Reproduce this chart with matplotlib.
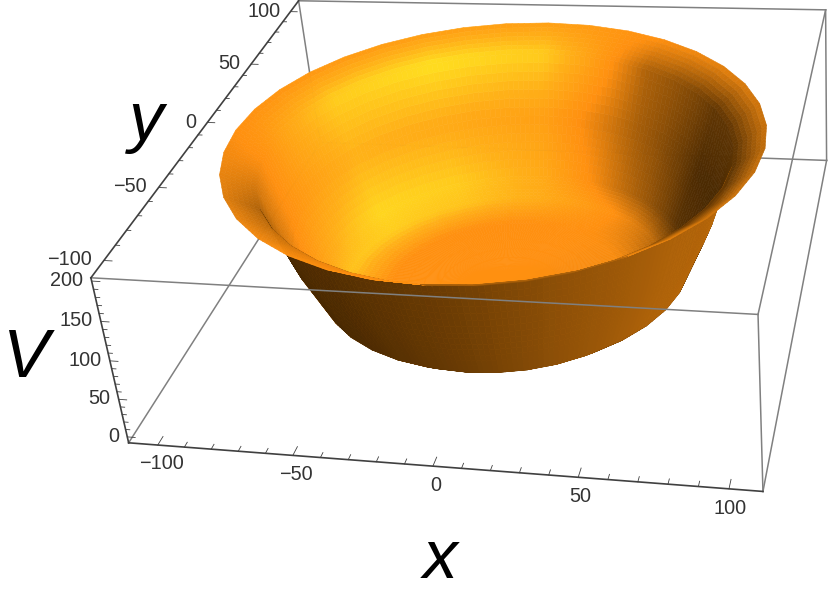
import numpy as np
import matplotlib
matplotlib.use('Agg')
import matplotlib.pyplot as plt
from matplotlib.colors import LinearSegmentedColormap
from mpl_toolkits.mplot3d import proj3d

# surface
angles = [0, 10, 20, 30, 40, 50, 60, 70, 80, 90, 100, 110, 120, 130, 140, 150, 160, 170, 180,
          190, 200, 210, 220, 230, 240, 250, 260, 270, 280, 290, 300, 310, 320, 330, 340, 350, 360]
radii = [0, 45, 62, 70, 80, 88, 100]
heights = [0, 1, 6, 25, 95, 170, 195]

# shade of the inside per ring (rows) and angle every 30 deg (columns), 0 dark, 0.5 orange, 1 yellow
shade_angles = [0, 30, 60, 90, 120, 150, 180, 210, 240, 270, 300, 330, 360]
inner_shade = [
    [.50, .50, .50, .50, .50, .50, .50, .50, .50, .50, .50, .50, .50],
    [.46, .48, .50, .50, .50, .50, .50, .50, .50, .50, .50, .48, .46],
    [.20, .30, .52, .72, .85, .90, .85, .60, .15, .15, .15, .30, .20],
    [.05, .08, .34, .70, .90, .95, .70, .45, .15, .15, .15, .12, .05],
    [.03, .05, .28, .62, .70, .75, .55, .34, .15, .15, .15, .05, .03],
    [.08, .10, .30, .90, 1.0, .90, .55, .30, .45, .50, .50, .10, .08],
    [.35, .42, .50, .62, .60, .55, .50, .42, .50, .50, .50, .40, .35],
]
outer_shade = [
    [.30, .30, .30, .30, .30, .30, .03, .03, .05, .12, .22, .30, .30],
    [.30, .30, .30, .30, .30, .30, .03, .03, .05, .12, .22, .30, .30],
    [.33, .30, .30, .30, .30, .30, .03, .03, .05, .12, .22, .30, .33],
    [.33, .30, .30, .30, .30, .30, .03, .03, .05, .12, .22, .30, .33],
    [.33, .30, .30, .30, .30, .30, .03, .03, .05, .12, .22, .30, .33],
    [.33, .30, .30, .30, .30, .30, .05, .05, .06, .12, .22, .30, .33],
    [.40, .40, .40, .40, .40, .40, .30, .30, .30, .30, .30, .35, .40],
]
shade_colors = ['#3a2000', '#9c5808', '#ff9010', '#ffb018', '#ffe020']

x_ticks = [-100, -50, 0, 50, 100]
y_ticks = [-100, -50, 0, 50, 100]
z_ticks = [0, 50, 100, 150, 200]
minor_x = list(range(-100, 101, 10))
minor_z = list(range(0, 201, 10))

xlim = (-111, 111)
ylim = (-111, 111)
zlim = (-8, 204)

fig = plt.figure(figsize=(8.3, 5.96), dpi=100)
ax = fig.add_axes([0, 0, 1, 1], projection='3d', computed_zorder=False)
ax.set_box_aspect((1, 0.989, 0.309))
ax.view_init(30.2, -73.61, 5.91)
ax.set_proj_type('persp', focal_length=0.441)
ax.set_axis_off()
ax.set_xticks([])
ax.set_yticks([])
ax.set_zticks([])

# view limits give pixel size of the axes
vl = ax.viewLim
scale = 4484.05
shift_x = 499.13
shift_y = 383.34
w = scale * (vl.x1 - vl.x0)
h = scale * (vl.y1 - vl.y0)
ax.set_position([(shift_x + scale * vl.x0) / 830, (shift_y + scale * vl.y0) / 596, w / 830, h / 596])

ax.set_xlim(*xlim)
ax.set_ylim(*ylim)
ax.set_zlim(*zlim)

# split every facet so the colours run smooth over the flat facets
sub = 7
ti = np.arange(0, (len(angles) - 1) * sub + 1) / sub
ri = np.arange(0, (len(radii) - 1) * sub + 1) / sub
a0 = np.radians(angles)
cx = np.interp(ti, np.arange(len(angles)), np.cos(a0))
cy = np.interp(ti, np.arange(len(angles)), np.sin(a0))
rr = np.interp(ri, np.arange(len(radii)), radii)
zz = np.interp(ri, np.arange(len(radii)), heights)
X = np.outer(rr, cx)
Y = np.outer(rr, cy)
Z = np.outer(zz, np.ones_like(cx))


def upsample(table):
    table = np.array(table)
    tm = np.interp(0.5 * (ti[:-1] + ti[1:]), np.arange(len(angles)), angles)
    rm = 0.5 * (ri[:-1] + ri[1:])
    a = np.array([np.interp(tm, shade_angles, row) for row in table])
    return np.array([np.interp(rm, np.arange(len(radii)), a[:, j]) for j in range(a.shape[1])]).T


def to_figure(x, y, z):
    u, v, _ = proj3d.proj_transform(x, y, z, ax.get_proj())
    return (shift_x + scale * u) / 830, (shift_y + scale * v) / 596


cmap = LinearSegmentedColormap.from_list('bowl', shade_colors)
px, py, _ = proj3d.proj_transform(X.ravel(), Y.ravel(), Z.ravel(), ax.get_proj())
px = np.reshape(px, X.shape)
py = np.reshape(py, X.shape)
d1x = px[1:, 1:] - px[:-1, :-1]
d1y = py[1:, 1:] - py[:-1, :-1]
d2x = px[:-1, 1:] - px[1:, :-1]
d2y = py[:-1, 1:] - py[1:, :-1]
inside = (d1x * d2y - d1y * d2x) > 0
shade = np.where(inside, upsample(inner_shade), upsample(outer_shade))
face = cmap(shade)

ax.plot_surface(X, Y, Z, rstride=1, cstride=1, facecolors=face, shade=False,
                linewidth=0.4, antialiased=True, zorder=2)
ax.set_xlim(*xlim)
ax.set_ylim(*ylim)
ax.set_zlim(*zlim)

x0, x1 = xlim
y0, y1 = ylim
z0, z1 = zlim
grey = '#808080'
dark = '#404040'
back_edges = [((x0, y0, z0), (x0, y1, z0)), ((x0, y1, z0), (x1, y1, z0)),
              ((x0, y1, z0), (x0, y1, z1)), ((x0, y1, z1), (x1, y1, z1)),
              ((x1, y1, z0), (x1, y1, z1))]
front_edges = [((x0, y0, z1), (x1, y0, z1)), ((x1, y0, z1), (x1, y1, z1)),
               ((x1, y0, z0), (x1, y0, z1)), ((x1, y0, z0), (x1, y1, z0))]
axis_edges = [((x0, y0, z0), (x1, y0, z0)), ((x0, y0, z0), (x0, y0, z1)),
              ((x0, y0, z1), (x0, y1, z1))]
for a, b in back_edges:
    ax.plot(*zip(a, b), color=grey, lw=1.1, zorder=1)
for a, b in front_edges:
    ax.plot(*zip(a, b), color=grey, lw=1.1, zorder=3)
for a, b in axis_edges:
    ax.plot(*zip(a, b), color=dark, lw=1.2, zorder=3)

# ticks
for t in minor_x:
    ln = 5.0 if t in x_ticks else 2.8
    ax.plot([t, t], [y0, y0 + ln], [z0, z0], color=dark, lw=0.6, zorder=3)
for t in minor_x:
    ln = 3.0 if t in y_ticks else 1.6
    ax.plot([x0, x0 + ln], [t, t], [z1, z1], color=dark, lw=0.6, zorder=3)
for t in minor_z:
    ln = 3.0 if t in z_ticks else 1.6
    ax.plot([x0, x0 + ln], [y0, y0], [t, t], color=dark, lw=0.6, zorder=3)

label_font = dict(family='Liberation Sans', fontsize=14.3, color='#333333', va='center')
for t in x_ticks:
    fx, fy = to_figure(t, y0, z0 - 25)
    fig.text(fx, fy, str(t).replace('-', '\u2212'), ha='center', **label_font)
for t in y_ticks:
    fx, fy = to_figure(x0 - 4.5, t, z1)
    fig.text(fx, fy, str(t).replace('-', '\u2212'), ha='right', **label_font)
for t in z_ticks:
    fx, fy = to_figure(x0 - 3, y0, t)
    fig.text(fx, fy, str(t), ha='right', **label_font)

title_font = dict(family='Liberation Sans', style='italic', fontsize=50, color='black',
                  ha='center', va='center')
fig.text(440 / 830, 1 - 560 / 596, 'x', **title_font)
fig.text(146 / 830, 1 - 122 / 596, 'y', **title_font)
fig.text(26 / 830, 1 - 359 / 596, 'V', **title_font)

fig.savefig('out.png', dpi=100)
